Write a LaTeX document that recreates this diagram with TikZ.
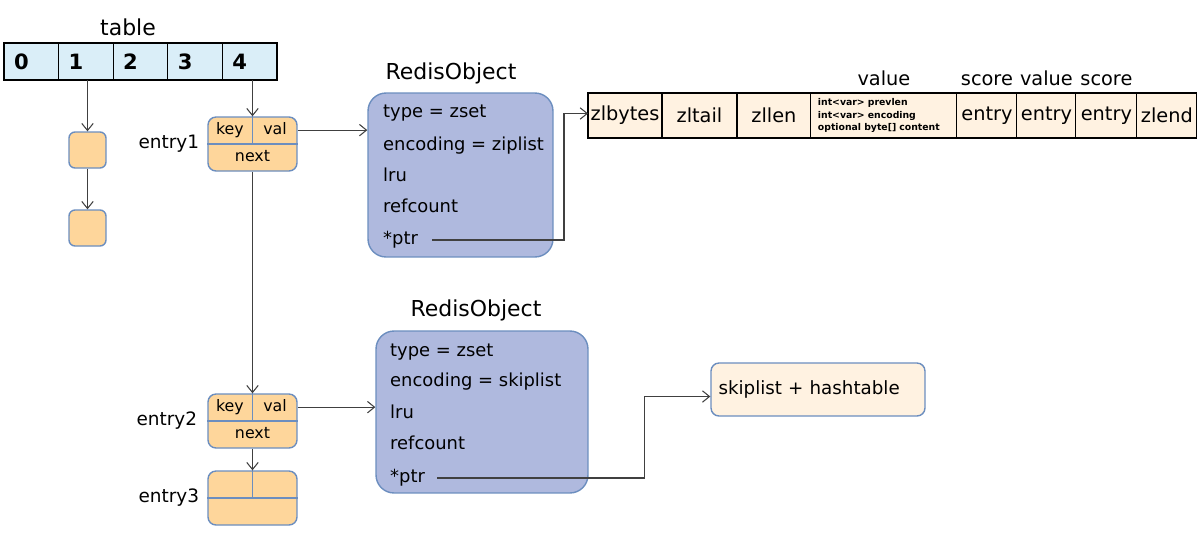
\documentclass[tikz,border=0pt]{standalone}
\usepackage{fontspec}
\setmainfont{DejaVu Sans}
\usepackage{tikz}
\usetikzlibrary{arrows.meta, calc, positioning}
\definecolor{slotblue}{RGB}{218, 238, 248}
\definecolor{entryorange}{RGB}{254, 214, 155}
\definecolor{edgeblue}{RGB}{108, 142, 191}
\definecolor{objviolet}{RGB}{175, 185, 222}
\definecolor{zlpeach}{RGB}{255, 242, 225}
\definecolor{linkgray}{RGB}{64, 64, 64}

\tikzset{
    slot/.style={draw=black, fill=slotblue, line width=0.7pt, outer sep=0pt,
        minimum width=1.092cm, minimum height=0.74cm, text width=0.692cm,
        inner xsep=0.2cm, align=left, font=\fontsize{12}{14}\selectfont\bfseries},
    entrybox/.style={draw=edgeblue, fill=entryorange, line width=0.8pt,
        rounded corners=0.16cm, minimum width=1.78cm, minimum height=1.08cm},
    smallbox/.style={draw=edgeblue, fill=entryorange, line width=0.8pt,
        rounded corners=0.12cm, minimum width=0.74cm, minimum height=0.72cm},
    divider/.style={draw=edgeblue, line width=0.6pt},
    field/.style={inner sep=0pt, text height=6.5pt, text depth=1.8pt, font=\fontsize{9}{11}\selectfont},
    tag/.style={font=\fontsize{10.5}{12}\selectfont},
    objbox/.style={draw=edgeblue, fill=objviolet, line width=0.8pt, rounded corners=0.36cm},
    objline/.style={anchor=west, text height=7.5pt, text depth=2pt, font=\fontsize{10.2}{12}\selectfont},
    title/.style={font=\fontsize{12.5}{14}\selectfont},
    zlcell/.style={draw=black, fill=zlpeach, line width=0.6pt, outer sep=0pt,
        minimum height=0.9cm, inner sep=0pt, font=\fontsize{11}{13}\selectfont},
    toplbl/.style={text height=7.5pt, text depth=0pt, font=\fontsize{11}{13}\selectfont},
    link/.style={draw=linkgray, line width=0.6pt, -{Straight Barb[length=4pt,width=6.5pt]}}
}

\begin{document}
\begin{tikzpicture}[x=0.02cm, y=-0.02cm]
    \useasboundingbox (0,0) rectangle (1201,549);

    % Hash table slots
    \node[title] (tbl) at (128,27) {table};
    \foreach \i in {0,...,4} {
        \node[slot] (c\i) at ({4+54.6*\i+27.3},61.5) {\i};
    }

    % Chain from slot 1
    \node[smallbox] (sb1) at (87.5,150) {};
    \node[smallbox] (sb2) at (87.5,228) {};
    \draw[link] (sb1.north |- c1.south) -- (sb1.north);
    \draw[link] (sb1.south) -- (sb2.north);

    % Entries from slot 4
    \foreach \e/\y in {e1/144, e2/421, e3/498} {
        \node[entrybox] (\e) at (252.5,\y) {};
        \draw[divider] (\e.west) -- (\e.east);
        \draw[divider] (\e.north) -- (\e.center);
    }
    \foreach \e in {e1, e2} {
        \node[field] (\e key) at ($(\e.north west)!0.5!(\e.center)$) {key};
        \node[field] (\e val) at ($(\e.north east)!0.5!(\e.center)$) {val};
        \node[field] (\e next) at ($(\e.south)!0.5!(\e.center)$) {next};
    }
    \node[tag, left=0.04cm of e1] (e1lbl) {entry1};
    \node[tag, left=0.08cm of e2] (e2lbl) {entry2};
    \node[tag, left=0.04cm of e3] (e3lbl) {entry3};
    \draw[link] (e1.north |- c4.south) -- (e1.north);
    \draw[link] (e1.south) -- (e2.north);
    \draw[link] (e2.south) -- (e3.north);

    % RedisObject with ziplist encoding
    \node[objbox, minimum width=3.7cm, minimum height=3.28cm] (ro1) at (460.5,175) {};
    \node[title] (ro1title) at (451,73) {RedisObject};
    \foreach \y/\txt/\nm in {113/type = zset/type, 146/encoding = ziplist/enc,
            177/lru/lru, 208/refcount/ref, 240/*ptr/ptr} {
        \node[objline] (ro1\nm) at (377,\y) {\txt};
    }
    \draw[link] (e1.east |- e1val) -- (ro1.west |- e1val);

    % RedisObject with skiplist encoding
    \node[objbox, minimum width=4.24cm, minimum height=3.24cm] (ro2) at (482,412) {};
    \node[title] (ro2title) at (476,310) {RedisObject};
    \foreach \y/\txt/\nm in {352/type = zset/type, 382/encoding = skiplist/enc,
            414/lru/lru, 445/refcount/ref, 478/*ptr/ptr} {
        \node[objline] (ro2\nm) at (384,\y) {\txt};
    }
    \draw[link] (e2.east |- e2val) -- (ro2.west |- e2val);

    % Ziplist layout
    \node[zlcell, anchor=north west, minimum width=1.48cm] (zlbytes) at (588,93) {zlbytes};
    \node[zlcell, minimum width=1.5cm, right=0pt of zlbytes] (zltail) {zltail};
    \node[zlcell, minimum width=1.48cm, right=0pt of zltail] (zllen) {zllen};
    \node[zlcell, minimum width=2.92cm, text width=2.64cm, inner xsep=0.14cm, align=left,
        font=\fontsize{5.3}{7}\selectfont\bfseries, right=0pt of zllen] (zlval)
        {int<var> prevlen\\int<var> encoding\\optional byte[] content};
    \node[zlcell, minimum width=1.2cm, right=0pt of zlval] (zle1) {entry};
    \node[zlcell, minimum width=1.18cm, right=0pt of zle1] (zle2) {entry};
    \node[zlcell, minimum width=1.22cm, right=0pt of zle2] (zle3) {entry};
    \node[zlcell, minimum width=1.2cm, right=0pt of zle3] (zlend) {zlend};
    \node[toplbl, above=1pt of zlval] (zlvallbl) {value};
    \node[toplbl, above=1pt of zle1] (zle1lbl) {score};
    \node[toplbl, above=1pt of zle2] (zle2lbl) {value};
    \node[toplbl, above=1pt of zle3] (zle3lbl) {score};
    \draw[link] ($(ro1ptr.east)+(8,0)$) -| ($(zlbytes.west)+(-24,-2)$) -- ($(zlbytes.west)+(0,-2)$);

    % Skiplist target
    \node[draw=edgeblue, fill=zlpeach, line width=0.8pt, rounded corners=0.16cm,
        minimum width=4.28cm, minimum height=1.06cm, text width=3.98cm, inner xsep=0.15cm,
        align=left, font=\fontsize{10.4}{12}\selectfont] (skip) at (818,389.5) {skiplist + hashtable};
    \draw[link] ($(ro2ptr.east)+(6,0)$) -| ($(skip.west)+(-66,7)$) -- ($(skip.west)+(0,7)$);
\end{tikzpicture}
\end{document}
